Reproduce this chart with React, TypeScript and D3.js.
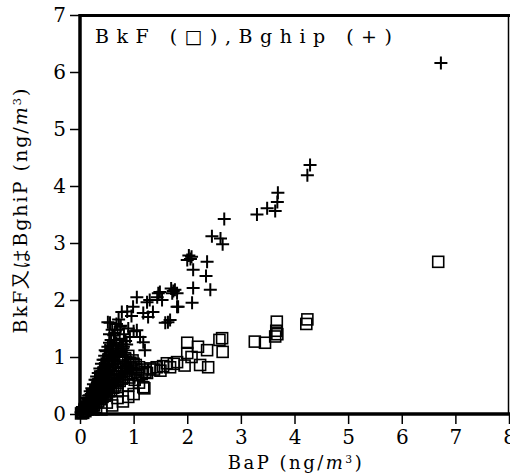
import React, { useEffect, useRef } from "react";
import * as d3 from "d3";

// BaP vs Bghip (plus markers)
const bghipBaP = [
  6.73, 4.29, 4.24, 3.69, 3.68, 3.64, 3.49, 3.30, 2.69, 2.46, 2.62, 2.66, 2.03, 2.06, 2.08, 2.00,
  2.37, 2.11, 2.35, 2.11, 2.43, 1.74, 1.72, 1.77, 1.70, 1.49, 1.44, 2.09, 1.81, 1.36, 1.68, 1.59,
  1.06, 0.99, 0.78, 0.88, 1.18, 1.27, 1.46, 1.53, 1.81, 1.83, 1.64, 0.56, 0.75, 1.06, 1.12, 0.65,
  1.18, 1.21, 1.30, 1.25,
  0.02, 0.04, 0.05, 0.06, 0.08, 0.09, 0.10, 0.12, 0.13, 0.15, 0.16, 0.18, 0.19, 0.21, 0.22, 0.24,
  0.25, 0.27, 0.28, 0.30, 0.31, 0.33, 0.34, 0.36, 0.37, 0.39, 0.40, 0.42, 0.43, 0.45, 0.46, 0.48,
  0.49, 0.51, 0.52, 0.54, 0.55, 0.57, 0.58, 0.60, 0.62, 0.63, 0.65, 0.66, 0.68, 0.70, 0.72, 0.74,
  0.76, 0.78, 0.82, 0.85, 0.90, 0.93, 0.96, 1.00, 0.47, 0.52, 0.62, 0.70, 0.80, 0.86,
  0.12, 0.15, 0.18, 0.20, 0.23, 0.26, 0.29, 0.32, 0.35, 0.38, 0.41, 0.44, 0.47, 0.50, 0.53, 0.56,
  0.59, 0.61, 0.64, 0.67, 0.69, 0.73, 0.77, 0.81, 0.84, 0.87, 0.55, 0.60, 0.68, 0.72, 0.58, 0.45,
  0.38, 0.30,
];
const bghipVal = [
  6.16, 4.37, 4.19, 3.88, 3.72, 3.56, 3.61, 3.50, 3.42, 3.12, 3.08, 2.98, 2.78, 2.72, 2.76, 2.70,
  2.67, 2.53, 2.42, 2.21, 2.18, 2.16, 2.12, 2.18, 2.20, 2.14, 2.05, 1.95, 1.88, 1.79, 1.65, 1.60,
  2.05, 1.88, 1.79, 1.80, 1.77, 1.70, 2.12, 2.00, 2.12, 1.88, 1.61, 1.60, 1.53, 1.47, 1.35, 1.30,
  1.26, 1.12, 2.00, 1.96,
  0.03, 0.08, 0.05, 0.12, 0.10, 0.18, 0.15, 0.22, 0.28, 0.20, 0.32, 0.26, 0.40, 0.35, 0.45, 0.38,
  0.52, 0.44, 0.60, 0.50, 0.66, 0.56, 0.72, 0.62, 0.80, 0.68, 0.88, 0.74, 0.95, 0.82, 1.02, 0.86,
  1.10, 0.92, 1.18, 0.98, 1.25, 1.05, 1.30, 1.12, 1.20, 1.38, 1.42, 1.08, 1.25, 1.48, 1.15, 1.32,
  1.55, 1.22, 1.40, 1.28, 1.50, 1.35, 1.72, 1.45, 1.12, 1.61, 0.95, 1.05, 1.15, 1.00,
  0.16, 0.25, 0.33, 0.28, 0.42, 0.36, 0.48, 0.42, 0.58, 0.52, 0.66, 0.60, 0.76, 0.70, 0.84, 0.78,
  0.95, 0.88, 1.00, 0.92, 1.10, 1.02, 1.10, 1.18, 1.05, 1.22, 1.40, 1.48, 1.58, 1.66, 1.20, 0.95,
  0.75, 0.60,
];

// BaP vs BkF (square markers)
const bkfBaP = [
  6.68, 4.24, 4.22, 3.67, 3.66, 3.64, 3.68, 3.45, 3.26, 2.65, 2.60, 2.66, 2.39, 2.24, 2.37, 2.20,
  2.00, 2.00, 2.08, 1.81, 1.75, 1.62, 1.55, 1.43, 1.38, 1.31, 1.18, 1.95, 1.68, 1.50, 1.25, 1.15,
  0.02, 0.04, 0.06, 0.08, 0.10, 0.12, 0.14, 0.16, 0.18, 0.20, 0.22, 0.24, 0.26, 0.28, 0.30, 0.32,
  0.34, 0.36, 0.38, 0.40, 0.42, 0.44, 0.46, 0.48, 0.50, 0.52, 0.54, 0.56, 0.58, 0.60, 0.62, 0.64,
  0.66, 0.68, 0.70, 0.72, 0.74, 0.76, 0.78, 0.80, 0.82, 0.84, 0.86, 0.88, 0.90, 0.92, 0.95, 0.98,
  1.00, 1.02, 1.05, 1.08, 0.60, 0.65, 0.70, 0.55, 0.50, 0.45, 0.40, 0.35, 0.40, 0.60, 0.80, 1.00,
  1.20, 1.10, 0.90, 0.70,
  0.14, 0.18, 0.22, 0.26, 0.30, 0.34, 0.38, 0.42, 0.46, 0.50, 0.54, 0.58, 0.62, 0.66, 0.70, 0.74,
  0.78, 0.82, 0.86, 0.90, 0.94, 0.98, 1.04, 1.10, 1.16, 1.22, 0.30, 0.50, 0.70, 0.90, 0.25,
];
const bkfVal = [
  2.67, 1.66, 1.58, 1.62, 1.46, 1.36, 1.40, 1.25, 1.27, 1.33, 1.30, 1.09, 0.82, 0.86, 1.12, 1.18,
  1.25, 1.07, 1.00, 0.91, 0.88, 0.89, 0.84, 0.82, 0.78, 0.80, 0.47, 0.85, 0.82, 0.76, 0.72, 0.70,
  0.01, 0.03, 0.02, 0.06, 0.05, 0.10, 0.08, 0.14, 0.10, 0.18, 0.14, 0.22, 0.16, 0.26, 0.20, 0.30,
  0.22, 0.34, 0.26, 0.38, 0.30, 0.42, 0.32, 0.46, 0.36, 0.50, 0.40, 0.55, 0.42, 0.60, 0.46, 0.66,
  0.50, 0.72, 0.55, 0.78, 0.58, 0.85, 0.62, 0.92, 0.65, 0.98, 0.70, 0.76, 1.02, 0.64, 0.80, 0.72,
  0.88, 0.60, 0.78, 0.68, 1.05, 1.12, 1.20, 0.95, 0.82, 0.70, 0.62, 0.52, 0.08, 0.15, 0.22, 0.35,
  0.45, 0.55, 0.50, 0.40,
  0.12, 0.16, 0.20, 0.24, 0.27, 0.30, 0.34, 0.38, 0.44, 0.46, 0.50, 0.54, 0.58, 0.62, 0.66, 0.70,
  0.74, 0.80, 0.82, 0.86, 0.90, 0.94, 0.86, 0.82, 0.78, 0.74, 0.12, 0.20, 0.28, 0.30, 0.08,
];

const xTicks = [0, 1, 2, 3, 4, 5, 6, 7, 8];
const yTicks = [0, 1, 2, 3, 4, 5, 6, 7];

const FONT = "'DejaVu Serif', serif";

// writes "(ng/m³)" with an italic m and a raised 3
function unit(t: d3.Selection<SVGTextElement, unknown, null, undefined>) {
  t.append("tspan").text(" (ng/");
  t.append("tspan").attr("font-style", "italic").text("m");
  t.append("tspan").attr("font-size", "0.6em").attr("dy", "-0.55em").text("3");
  t.append("tspan").attr("dy", "0.33em").text(")");
}

export default function App() {
  const ref = useRef<SVGSVGElement>(null);

  useEffect(() => {
    const svg = d3.select(ref.current);
    svg.selectAll("*").remove();

    const x = d3.scaleLinear().domain([0, 8]).range([80, 509]);
    const y = d3.scaleLinear().domain([0, 7]).range([414, 15]);

    svg.append("rect").attr("width", 510).attr("height", 474).attr("fill", "#fff");

    // y axis
    const gy = svg.append("g").attr("transform", "translate(80,0)")
      .call(d3.axisLeft(y).tickValues(yTicks).tickSize(10).tickPadding(4).tickFormat(d3.format("d")))
      .attr("font-family", FONT).attr("font-size", 20);
    gy.select(".domain").remove();
    gy.selectAll("line").attr("stroke", "#000").attr("stroke-width", 1.5);
    gy.selectAll("text").attr("fill", "#000");

    // x axis
    const gx = svg.append("g").attr("transform", "translate(0,414)")
      .call(d3.axisBottom(x).tickValues(xTicks).tickSize(10).tickPadding(6).tickFormat(d3.format("d")))
      .attr("font-family", FONT).attr("font-size", 20);
    gx.select(".domain").remove();
    gx.selectAll("line").attr("stroke", "#000").attr("stroke-width", 1.5);
    gx.selectAll("text").attr("fill", "#000");

    // frame
    svg.append("line").attr("x1", 80).attr("x2", 80).attr("y1", 14).attr("y2", 415)
      .attr("stroke", "#000").attr("stroke-width", 3.5);
    svg.append("line").attr("x1", 79).attr("x2", 510).attr("y1", 414).attr("y2", 414)
      .attr("stroke", "#000").attr("stroke-width", 3.5);
    svg.append("line").attr("x1", 79).attr("x2", 510).attr("y1", 15.5).attr("y2", 15.5)
      .attr("stroke", "#000").attr("stroke-width", 3);
    svg.append("line").attr("x1", 508.5).attr("x2", 508.5).attr("y1", 15).attr("y2", 414)
      .attr("stroke", "#000").attr("stroke-width", 1.5);

    // squares
    const sq = d3.range(bkfBaP.length);
    svg.append("g").selectAll("rect").data(sq).join("rect")
      .attr("x", (i) => x(bkfBaP[i]) - 5.5)
      .attr("y", (i) => y(bkfVal[i]) - 5.5)
      .attr("width", 11).attr("height", 11)
      .attr("fill", "none").attr("stroke", "#000").attr("stroke-width", 1.6);

    // pluses
    const pl = d3.range(bghipBaP.length);
    svg.append("g").selectAll("path").data(pl).join("path")
      .attr("transform", (i) => `translate(${x(bghipBaP[i])},${y(bghipVal[i])})`)
      .attr("d", "M-6.5,0H6.5M0,-6.5V6.5")
      .attr("fill", "none").attr("stroke", "#000").attr("stroke-width", 2);

    // title inside
    svg.append("text").attr("x", 95).attr("y", 43)
      .attr("font-family", FONT).attr("font-size", 19).attr("letter-spacing", 7.5)
      .text("BkF (□),Bghip (+)");

    // x label
    const xl = svg.append("text").attr("x", 296).attr("y", 469).attr("text-anchor", "middle")
      .attr("font-family", FONT).attr("font-size", 18).attr("letter-spacing", 2.5)
      .text("BaP ");
    unit(xl);

    // y label
    const yl = svg.append("text").attr("transform", "translate(27,210) rotate(-90)")
      .attr("text-anchor", "middle")
      .attr("font-family", FONT).attr("font-size", 19).attr("letter-spacing", 2)
      .text("BkF又はBghiP");
    unit(yl);
  }, []);

  return (
    <div style={{ position: "absolute", left: 0, top: 0 }}>
      <svg ref={ref} width={510} height={474} />
    </div>
  );
}
